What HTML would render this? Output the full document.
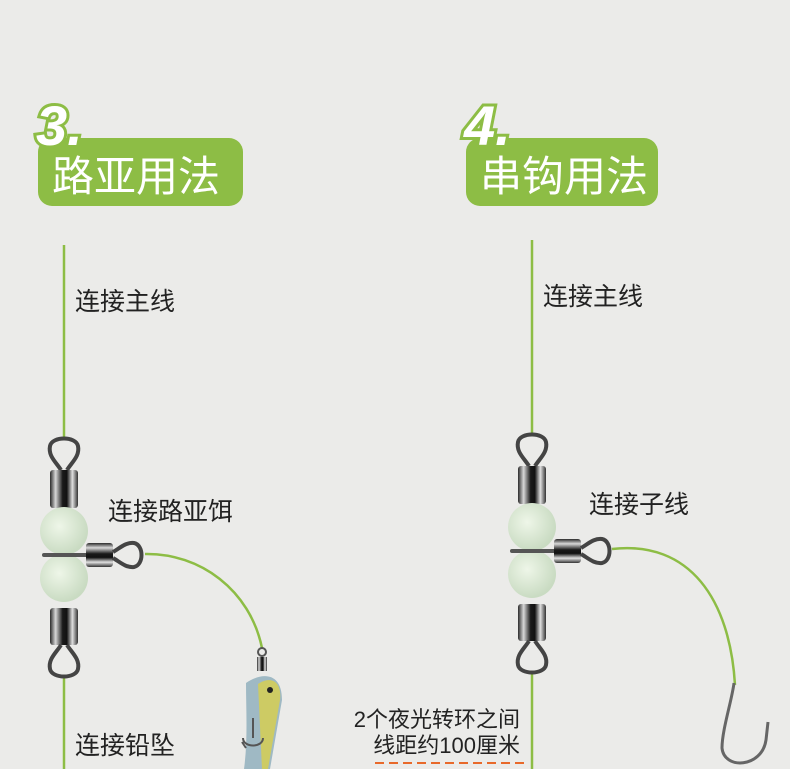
<!DOCTYPE html>
<html><head><meta charset="utf-8"><style>
html,body{margin:0;padding:0;background:#ebebe9;}
svg{display:block;}
text{font-family:"Liberation Sans","Noto Sans CJK SC",sans-serif;}
</style></head><body>
<svg width="790" height="769" viewBox="0 0 790 769" xmlns="http://www.w3.org/2000/svg">
<defs>
<linearGradient id="metal" x1="0" x2="1" y1="0" y2="0">
<stop offset="0" stop-color="#2a2a2a"/><stop offset="0.2" stop-color="#d8d8d8"/><stop offset="0.45" stop-color="#1a1a1a"/><stop offset="0.6" stop-color="#111"/><stop offset="0.8" stop-color="#e0e0e0"/><stop offset="1" stop-color="#333"/>
</linearGradient>
<linearGradient id="metalv" x1="0" x2="0" y1="0" y2="1">
<stop offset="0" stop-color="#2a2a2a"/><stop offset="0.2" stop-color="#d8d8d8"/><stop offset="0.45" stop-color="#1a1a1a"/><stop offset="0.6" stop-color="#111"/><stop offset="0.8" stop-color="#e0e0e0"/><stop offset="1" stop-color="#333"/>
</linearGradient>
<radialGradient id="bead" cx="0.4" cy="0.4" r="0.6">
<stop offset="0" stop-color="#eef6e8"/><stop offset="1" stop-color="#c9dbc2"/>
</radialGradient>
<g id="sw">
<path d="M-3,30 C-8,22 -16,16 -14,6 C-12,-4 12,-4 14,6 C16,16 8,22 3,30" fill="none" stroke="#444" stroke-width="4"/>
<rect x="-14" y="30" width="28" height="38" rx="3" fill="url(#metal)"/>
<circle cx="0" cy="91" r="24" fill="url(#bead)"/>
<circle cx="0" cy="138" r="24" fill="url(#bead)"/>
<rect x="-22" y="113" width="50" height="4" rx="2" fill="#555"/>
<rect x="22" y="103" width="27" height="24" rx="3" fill="url(#metalv)"/>
<path d="M49,112 C56,108 62,102 70,103 C80,105 80,125 70,127 C62,128 56,122 49,118" fill="none" stroke="#444" stroke-width="4"/>
<rect x="-14" y="168" width="28" height="37" rx="3" fill="url(#metal)"/>
<path d="M-3,205 C-8,213 -16,219 -14,229 C-12,239 12,239 14,229 C16,219 8,213 3,205" fill="none" stroke="#444" stroke-width="4"/>
</g>
</defs>
<rect width="790" height="769" fill="#ebebe9"/>

<rect x="38" y="138" width="205" height="68" rx="14" fill="#8dbd45"/>
<text x="52" y="191" font-size="42" fill="#fff">路亚用法</text>
<text x="36" y="145" font-size="56" font-weight="bold" font-style="italic" fill="#fff" stroke="#8dbd45" stroke-width="6" paint-order="stroke">3.</text>
<rect x="466" y="138" width="192" height="68" rx="14" fill="#8dbd45"/>
<text x="480" y="191" font-size="42" fill="#fff">串钩用法</text>
<text x="464" y="145" font-size="56" font-weight="bold" font-style="italic" fill="#fff" stroke="#8dbd45" stroke-width="6" paint-order="stroke">4.</text>

<g stroke="#8dbd45" stroke-width="2.5" fill="none">
<line x1="64" y1="245" x2="64" y2="437"/>
<line x1="64" y1="676" x2="64" y2="769"/>
<path d="M145,554 C200,553 250,590 262,648"/>
<line x1="532" y1="240" x2="532" y2="433"/>
<line x1="532" y1="672" x2="532" y2="769"/>
<path d="M612,549 C690,540 730,600 735,685"/>
</g>
<use href="#sw" x="64" y="440"/>
<use href="#sw" x="532" y="436"/>

<g>
<circle cx="262" cy="652" r="4" fill="none" stroke="#555" stroke-width="2"/>
<rect x="257" y="657" width="10" height="14" fill="url(#metal)"/>
<path d="M246,683 C262,672 282,672 282,700 L270,769 L244,769 C248,740 246,710 246,683Z" fill="#9fb9c4"/>
<path d="M258,684 C270,676 282,680 280,700 L268,769 L262,769 Z" fill="#d8cf4c" opacity="0.8"/>
<circle cx="270" cy="690" r="3" fill="#222"/>
<path d="M253,718 l0,20 M243,738 c0,10 20,10 20,0 M246,748 l-4,-6" stroke="#555" stroke-width="2" fill="none"/>
</g>
<path d="M734,683 C732,700 722,730 722,748 C724,770 762,768 766,740 L768,722" stroke="#666" stroke-width="3" fill="none"/>

<g font-size="25" fill="#222">
<text x="75" y="310">连接主线</text>
<text x="108" y="520">连接路亚饵</text>
<text x="75" y="754">连接铅坠</text>
<text x="543" y="305">连接主线</text>
<text x="589" y="513">连接子线</text>
</g>
<g font-size="22" fill="#222">
<text x="520" y="727" text-anchor="end">2个夜光转环之间</text>
<text x="520" y="753" text-anchor="end">线距约100厘米</text>
</g>
<line x1="375" y1="763" x2="528" y2="763" stroke="#e8692a" stroke-width="2" stroke-dasharray="9,5"/>
</svg>
</body></html>
